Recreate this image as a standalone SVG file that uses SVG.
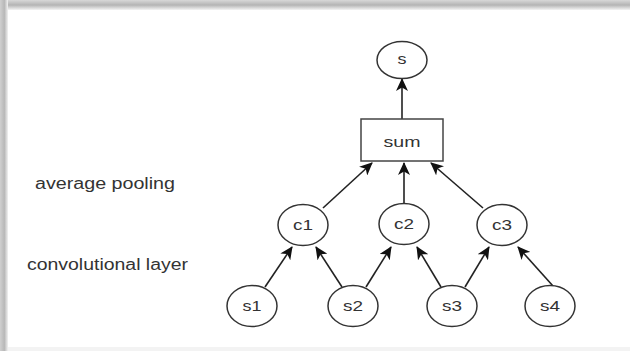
<svg xmlns="http://www.w3.org/2000/svg" width="630" height="351" viewBox="0 0 630 351">
<defs>
<linearGradient id="gTop" x1="0" y1="0" x2="0" y2="1">
<stop offset="0" stop-color="#d8d8d8"/>
<stop offset="0.5" stop-color="#b4b4b4"/>
<stop offset="1" stop-color="#f4f4f4"/>
</linearGradient>
<linearGradient id="gLeft" x1="0" y1="0" x2="1" y2="0">
<stop offset="0" stop-color="#d0d0d0"/>
<stop offset="0.55" stop-color="#b8b8b8"/>
<stop offset="1" stop-color="#f2f2f2"/>
</linearGradient>
<marker id="arr" viewBox="0 0 13 12" refX="12" refY="6" markerWidth="13" markerHeight="12" markerUnits="userSpaceOnUse" orient="auto">
<path d="M0,0 L13,6 L0,12 L3.5,6 Z" fill="#111"/>
</marker>
<style>
.node ellipse{fill:#fff;stroke:#333;stroke-width:1.5}
.node rect{fill:#fff;stroke:#444;stroke-width:1.5}
.lbl{font-family:"Liberation Sans",Arial,sans-serif;font-size:15px;fill:#333;text-anchor:middle}
.side{font-family:"Liberation Sans",Arial,sans-serif;font-size:16px;fill:#333}
#edges line{stroke:#222;stroke-width:1.6;marker-end:url(#arr)}
</style>
</defs>
<rect width="630" height="351" fill="#fff"/>
<rect x="0" y="0" width="630" height="10" fill="url(#gTop)"/>
<rect x="0" y="0" width="8" height="351" fill="url(#gLeft)"/>
<rect x="8" y="347" width="622" height="4" fill="#f3f3f3"/>

<g id="edges">
<line x1="402" y1="119" x2="402" y2="79"/>
<line x1="323" y1="208" x2="372" y2="163"/>
<line x1="404" y1="203" x2="404" y2="163"/>
<line x1="483" y1="208" x2="431" y2="163"/>
<line x1="265" y1="287" x2="292" y2="247"/>
<line x1="342" y1="287" x2="316" y2="247"/>
<line x1="366" y1="287" x2="391" y2="247"/>
<line x1="441" y1="287" x2="417" y2="247"/>
<line x1="465" y1="287" x2="489" y2="247"/>
<line x1="553" y1="286" x2="518" y2="247"/>
</g>

<g id="node-s" class="node"><ellipse cx="402" cy="60" rx="25" ry="18.5"/><text class="lbl" x="402" y="64" textLength="9" lengthAdjust="spacingAndGlyphs">s</text></g>
<g id="node-sum" class="node"><rect x="361" y="119" width="82" height="42"/><text class="lbl" x="402" y="147" textLength="37" lengthAdjust="spacingAndGlyphs">sum</text></g>
<g id="node-c1" class="node"><ellipse cx="303" cy="225" rx="25" ry="20.5"/><text class="lbl" x="303" y="230" textLength="20" lengthAdjust="spacingAndGlyphs">c1</text></g>
<g id="node-c2" class="node"><ellipse cx="404" cy="224" rx="25" ry="20.5"/><text class="lbl" x="404" y="229" textLength="20" lengthAdjust="spacingAndGlyphs">c2</text></g>
<g id="node-c3" class="node"><ellipse cx="502" cy="225" rx="25" ry="20.5"/><text class="lbl" x="502" y="230" textLength="20" lengthAdjust="spacingAndGlyphs">c3</text></g>
<g id="node-s1" class="node"><ellipse cx="252" cy="306" rx="25" ry="20.5"/><text class="lbl" x="252" y="311" textLength="19" lengthAdjust="spacingAndGlyphs">s1</text></g>
<g id="node-s2" class="node"><ellipse cx="353" cy="306" rx="25" ry="20.5"/><text class="lbl" x="353" y="311" textLength="20" lengthAdjust="spacingAndGlyphs">s2</text></g>
<g id="node-s3" class="node"><ellipse cx="452" cy="306" rx="25" ry="20.5"/><text class="lbl" x="452" y="311" textLength="20" lengthAdjust="spacingAndGlyphs">s3</text></g>
<g id="node-s4" class="node"><ellipse cx="550" cy="306" rx="25" ry="20.5"/><text class="lbl" x="550" y="311" textLength="20" lengthAdjust="spacingAndGlyphs">s4</text></g>

<g id="label-pool"><text class="side" x="35" y="189" textLength="140" lengthAdjust="spacingAndGlyphs">average pooling</text></g>
<g id="label-conv"><text class="side" x="27" y="270" textLength="161" lengthAdjust="spacingAndGlyphs">convolutional layer</text></g>
</svg>
